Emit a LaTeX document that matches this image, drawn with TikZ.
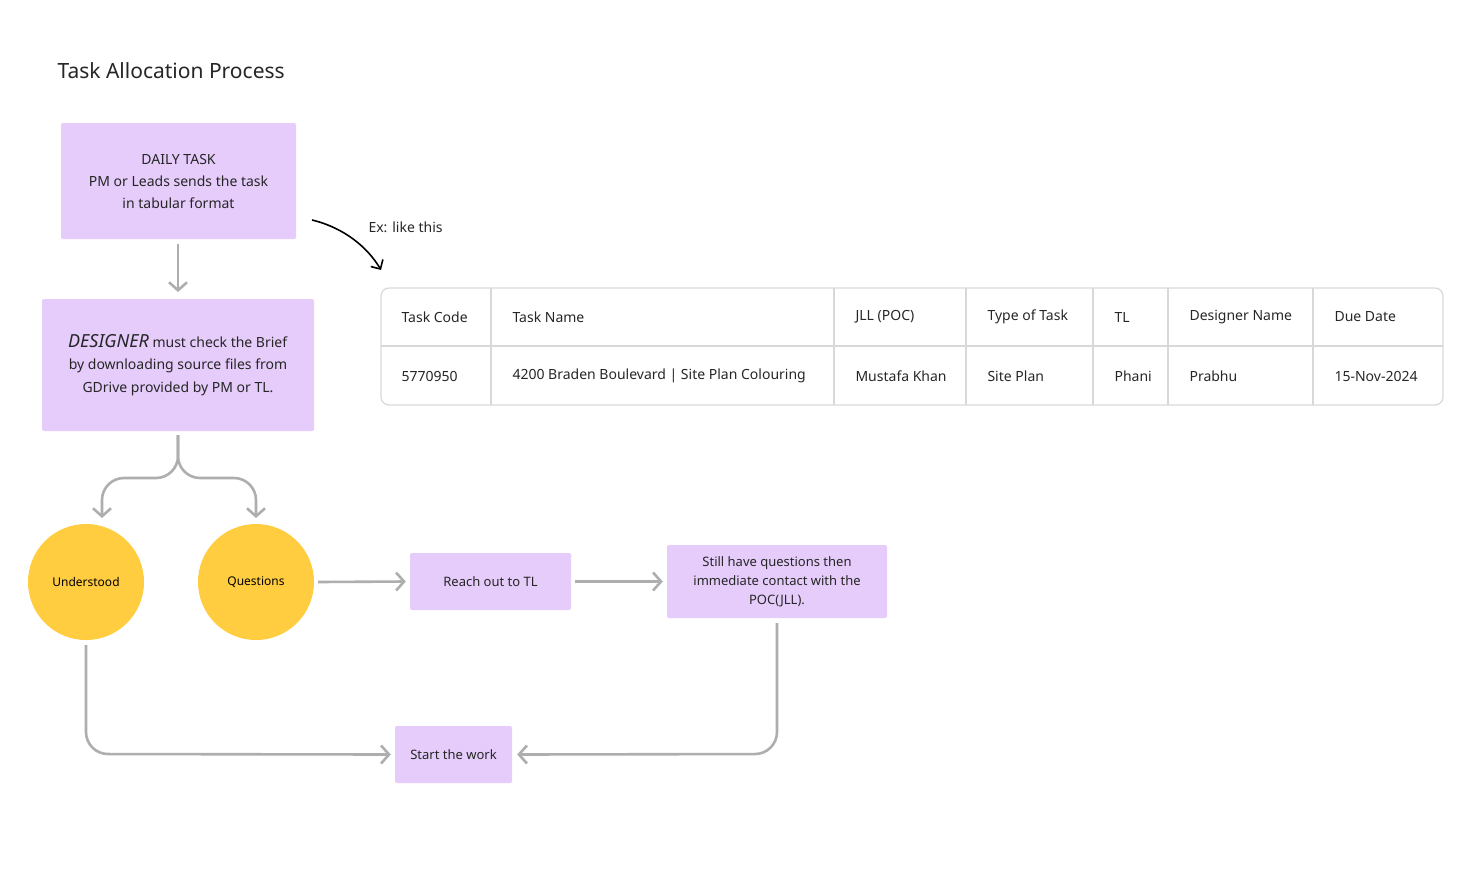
\documentclass[tikz,border=0pt]{standalone}
\usepackage{fontspec}
\setmainfont{Noto Sans}
\usetikzlibrary{arrows.meta}
\definecolor{lav}{HTML}{E5CCFA}
\definecolor{yel}{HTML}{FFCD3F}
\definecolor{gl}{HTML}{AEAEAE}
\definecolor{tb}{HTML}{D8D8D8}
\tikzset{
 box/.style={fill=lav,rounded corners=2pt,align=center,text=black!85},
 circ/.style={circle,fill=yel,minimum size=116pt,inner sep=0pt,font=\fontsize{12}{14}\selectfont\bfseries},
 conn/.style={draw=gl,line width=2.6pt,rounded corners=22pt,-{Straight Barb[length=8pt,width=18pt,line width=2.6pt]}},
 hd/.style={anchor=west,font=\fontsize{14}{16}\selectfont\bfseries,text=black!85},
 dt/.style={anchor=west,font=\fontsize{14}{16}\selectfont,text=black!85}
}
\begin{document}
\begin{tikzpicture}[x=1pt,y=-1pt]
\useasboundingbox (0,0) rectangle (1469,881);
\node[anchor=west,font=\fontsize{21}{24}\selectfont\bfseries,text=black!85] (title) at (54,71) {Task Allocation Process};
\node[box,minimum width=235pt,minimum height=116pt,font=\fontsize{14}{22}\selectfont] (b1) at (178.5,181) {{\bfseries DAILY TASK}\\PM or Leads sends the task\\in tabular format};
\node[box,minimum width=272pt,minimum height=132pt,font=\fontsize{14}{22.5}\selectfont] (b2) at (178,365) {{\fontsize{18}{20}\selectfont\bfseries\itshape DESIGNER} \textbf{must} check the \textbf{Brief}\\by downloading source files from\\\textbf{GDrive} provided by PM or TL.};
\draw[conn] (178,244) -- (178,292);
\node[circ] (u) at (86,582) {Understood};
\node[circ] (q) at (256,582) {Questions};
\coordinate (br) at (178,435);
\draw[conn] (br) -- (178,478) -- (102,478) -- (102,518);
\draw[conn] (br) -- (178,478) -- (256,478) -- (256,518);
\node[box,minimum width=161pt,minimum height=57pt,font=\fontsize{13}{15}\selectfont\bfseries] (r) at (490.5,581.5) {Reach out to TL};
\node[box,minimum width=220pt,minimum height=73pt,font=\fontsize{13}{19}\selectfont\bfseries] (s) at (777,581.5) {Still have questions then\\immediate contact with the\\POC(JLL).};
\node[box,minimum width=117pt,minimum height=57pt,font=\fontsize{13}{15}\selectfont\bfseries] (w) at (453.5,754.5) {Start the work};
\draw[conn] ([xshift=4pt]q.east) -- ([xshift=-4pt]r.west);
\draw[conn] ([xshift=4pt]r.east) -- ([xshift=-4pt]s.west);
\draw[conn] (86,645) -- (86,754) -- ([xshift=-4pt]w.west);
\draw[conn] (777,623) -- (777,754) -- ([xshift=5pt]w.east);
\node[dt] (ex) at (365,227) {Ex: like this};
\coordinate (c0) at (312,220);
\coordinate (c1) at (381,270);
\draw[line width=1.6pt,-{Straight Barb[length=7pt,width=14pt,line width=1.6pt]}] (c0) .. controls (345,228) and (368,248) .. (c1);
\draw[tb,line width=1.2pt,rounded corners=8pt] (381,288) rectangle (1443,405);
\draw[tb,line width=1.2pt] (381,346) -- (1443,346);
\foreach \x in {491,834,966,1093,1168,1313} \draw[tb,line width=1.2pt] (\x,288) -- (\x,405);
\node[hd] (h1) at (398,317) {Task Code};
\node[hd] (h2) at (509,317) {Task Name};
\node[hd] (h3) at (852,317) {JLL (POC)};
\node[hd] (h4) at (984,317) {Type of Task};
\node[hd] (h5) at (1111,317) {TL};
\node[hd] (h6) at (1186,317) {Designer Name};
\node[hd] (h7) at (1331,317) {Due Date};
\node[dt] (d1) at (398,376) {5770950};
\node[dt] (d2) at (509,376) {4200 Braden Boulevard | Site Plan Colouring};
\node[dt] (d3) at (852,376) {Mustafa Khan};
\node[dt] (d4) at (984,376) {Site Plan};
\node[dt] (d5) at (1111,376) {Phani};
\node[dt] (d6) at (1186,376) {Prabhu};
\node[dt] (d7) at (1331,376) {15-Nov-2024};
\end{tikzpicture}
\end{document}
